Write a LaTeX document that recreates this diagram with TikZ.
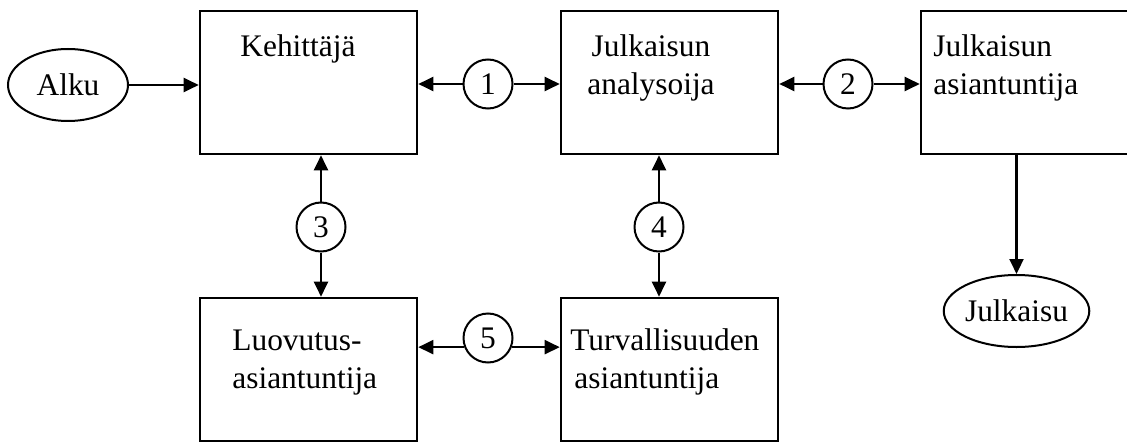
\documentclass[tikz,border=0pt]{standalone}
\usepackage{fontspec}
\setmainfont{Liberation Serif}
\usetikzlibrary{arrows.meta,shapes.geometric}

\begin{document}
\begin{tikzpicture}[
		x=0.5pt,
		y=-0.5pt,
		font=\fontsize{15.7}{19}\selectfont,
		rolebox/.style={draw, line width=1.3pt, minimum width=108.5pt, minimum height=71.5pt, inner sep=0pt},
		roletext/.style={inner sep=0pt},
		terminal/.style={draw, ellipse, line width=1pt, inner sep=0pt},
		msgnum/.style={draw, circle, line width=1pt, minimum size=24.5pt, inner sep=0pt},
		link/.style={line width=1.05pt, -{Triangle[length=7.5pt,width=7pt]}}
	]

		% Page frame (the rightmost box runs off the edge)
		\clip (0,0) rectangle (1127,443);

		% Role boxes
		\node[rolebox] (dev) at (308.5,82.5) {};
		\node[rolebox] (ana) at (669.5,82.5) {};
		\node[rolebox] (pub) at (1029.5,82.5) {};
		\node[rolebox] (lov) at (308.5,369.5) {};
		\node[rolebox] (sec) at (669.5,369.5) {};

		% Box texts (base = last line)
		\node[roletext, anchor=base west] (dev-l) at (240,57) {Kehittäjä};
		\node[roletext, anchor=base, align=center] (ana-l) at (651,95) {Julkaisun\\analysoija};
		\node[roletext, anchor=base west, align=left] (pub-l) at (933,95) {Julkaisun\\asiantuntija};
		\node[roletext, anchor=base west, align=left] (lov-l) at (232,388) {Luovutus-\\asiantuntija};
		\node[roletext, anchor=base west, align=left] (sec-l) at (570,388) {Turvallisuuden\\\hspace{2pt}asiantuntija};

		% Start and end
		\node[terminal, minimum width=60pt, minimum height=36pt] (alku) at (68,85) {Alku};
		\node[terminal, minimum width=72.5pt, minimum height=36pt] (rel) at (1016.5,311) {Julkaisu};

		% Numbered exchanges
		\node[msgnum] (n1) at (488,84) {1};
		\node[msgnum] (n2) at (848,84) {2};
		\node[msgnum] (n3) at (321,227) {3};
		\node[msgnum] (n4) at (659,227) {4};
		\node[msgnum] (n5) at (488,338) {5};

		% Arrows
		\draw[link] (alku) -- (alku -| dev.west);
		\draw[link] (n1) -- (n1 -| dev.east);
		\draw[link] (n1) -- (n1 -| ana.west);
		\draw[link] (n2) -- (n2 -| ana.east);
		\draw[link] (n2) -- (n2 -| pub.west);
		\draw[link] (n3) -- (n3 |- dev.south);
		\draw[link] (n3) -- (n3 |- lov.north);
		\draw[link] (n4) -- (n4 |- ana.south);
		\draw[link] (n4) -- (n4 |- sec.north);
		\draw[link] (n5.201) -- (n5.201 -| lov.east);
		\draw[link] (n5.-21) -- (n5.-21 -| sec.west);
		\draw[link] (rel |- pub.south) -- (rel);

	\end{tikzpicture}
\end{document}
